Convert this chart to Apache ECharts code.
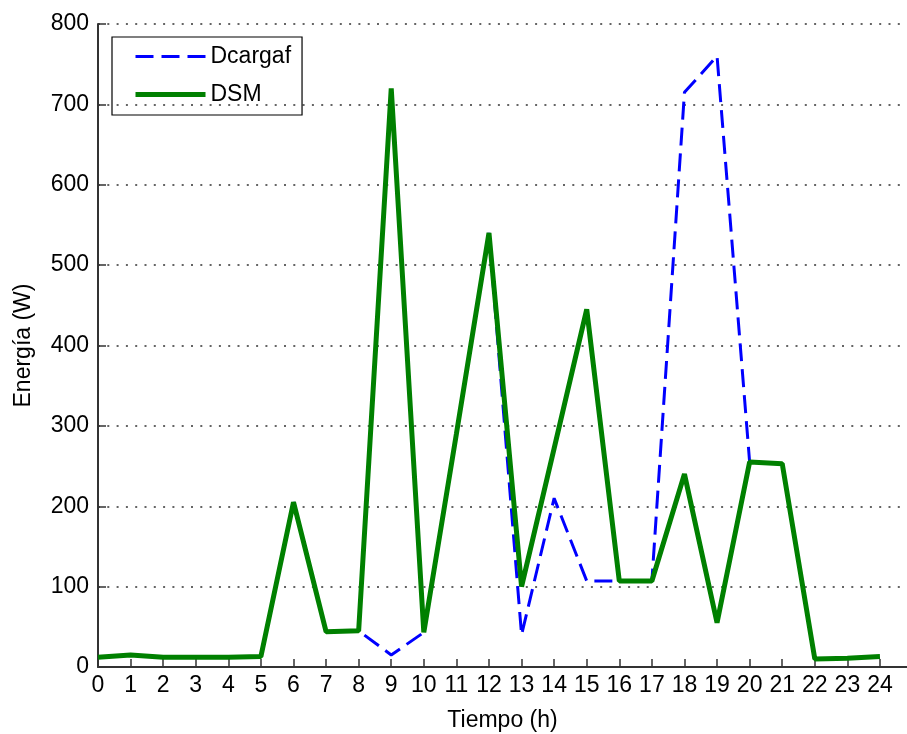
<!DOCTYPE html>
<html>
<head>
<meta charset="utf-8">
<script src="https://cdn.jsdelivr.net/npm/echarts@6/dist/echarts.min.js"></script>
<style>
html,body{margin:0;padding:0;background:#fff;}
#chart{width:907px;height:734px;}
</style>
</head>
<body>
<div id="chart"></div>
<script>
var hours = [0,1,2,3,4,5,6,7,8,9,10,11,12,13,14,15,16,17,18,19,20,21,22,23,24];
var dcargaf = [12,15,12,12,12,13,205,44,45,15,43,290,540,40,210,107,107,107,715,760,255,253,10,11,13];
var dsm     = [12,15,12,12,12,13,205,44,45,720,43,290,540,100,272,445,107,107,240,55,255,253,10,11,13];
var yTicks = [0,100,200,300,400,500,600,700,800];
var seriesNames = ['Dcargaf','DSM'];

function pairs(xs, ys){ return xs.map(function(x,i){ return [x, ys[i]]; }); }

var FONT = '"Liberation Sans", Arial, sans-serif';
var chart = echarts.init(document.getElementById('chart'), null, {renderer:'canvas'});
chart.setOption({
  animation:false,
  backgroundColor:'#fff',
  grid:{left:98, right:0, top:24, bottom:67, containLabel:false, outerBoundsMode:'none'},
  legend:{
    show:true,
    left:112, top:37, orient:'vertical',
    borderColor:'#000', borderWidth:1.2, borderRadius:0,
    padding:[8,11,9,21],
    itemWidth:70, itemHeight:14, itemGap:15,
    itemStyle:{color:'rgba(0,0,0,0)', borderColor:'rgba(0,0,0,0)', borderWidth:0},
    textStyle:{fontSize:23, color:'#000', fontFamily:FONT},
    data:[
      {name:seriesNames[0], lineStyle:{color:'#0000ff', width:3, type:[18,8]}},
      {name:seriesNames[1], lineStyle:{color:'#008000', width:5, type:'solid'}}
    ]
  },
  xAxis:{
    type:'value', min:0, max:24.83, interval:1,
    name:'Tiempo (h)', nameLocation:'middle', nameGap:42,
    nameTextStyle:{fontSize:23, color:'#000', fontFamily:FONT},
    axisLine:{show:true, onZero:false, lineStyle:{color:'#333', width:2}},
    axisTick:{show:true, inside:true, length:8, lineStyle:{color:'#333', width:1.5}, customValues:hours},
    axisLabel:{fontSize:23, color:'#000', fontFamily:FONT, margin:7, customValues:hours,
      formatter:function(v){ return (v<=24 && Math.abs(v-Math.round(v))<1e-6) ? String(v) : ''; }},
    splitLine:{show:false}
  },
  yAxis:{
    type:'value', min:0, max:800, interval:100,
    name:'Energía (W)', nameLocation:'middle', nameGap:63, nameRotate:90,
    nameTextStyle:{fontSize:23, color:'#000', fontFamily:FONT},
    axisLine:{show:true, lineStyle:{color:'#333', width:2}},
    axisTick:{show:true, inside:true, length:8, lineStyle:{color:'#333', width:1.5}},
    axisLabel:{fontSize:23, color:'#000', fontFamily:FONT, margin:9,
      formatter:function(v){ return yTicks.indexOf(v)>=0 ? String(v) : ''; }},
    splitLine:{show:true, lineStyle:{color:'#333', width:1.5, type:[2,7.3]}}
  },
  series:[
    {name:seriesNames[0], type:'line', data:pairs(hours,dcargaf), symbol:'none', showSymbol:false,
     lineStyle:{color:'#0000ff', width:3, type:[18,8]}, itemStyle:{color:'#0000ff'}, z:2},
    {name:seriesNames[1], type:'line', data:pairs(hours,dsm), symbol:'none', showSymbol:false,
     lineStyle:{color:'#008000', width:5, type:'solid'}, itemStyle:{color:'#008000'}, z:3}
  ]
});
</script>
</body>
</html>
